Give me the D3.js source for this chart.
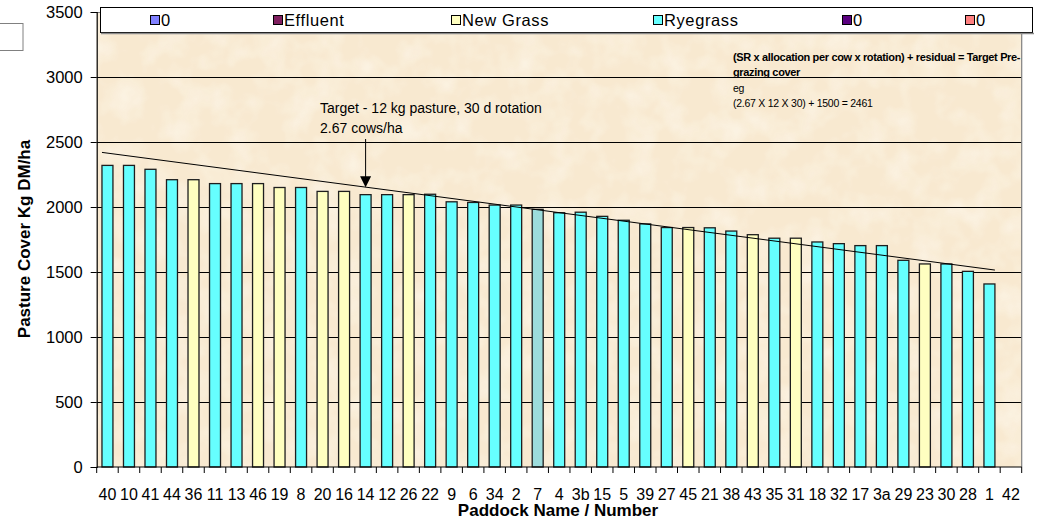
<!DOCTYPE html>
<html><head><meta charset="utf-8">
<script src="https://cdn.jsdelivr.net/npm/d3@7"></script>
<style>body{margin:0;background:#fff}svg{display:block}text{font-family:"Liberation Sans",Arial,sans-serif;fill:#000}</style>
</head><body>
<script>
// ---- data ----
const paddocks = ["40","10","41","44","36","11","13","46","19","8","20","16","14","12","26","22","9","6","34","2","7","4","3b","15","5","39","27","45","21","38","43","35","31","18","32","17","3a","29","23","30","28","1","42"];
const cover = [2320,2320,2290,2210,2210,2180,2180,2180,2150,2150,2120,2120,2095,2095,2095,2098,2040,2035,2015,2015,1982,1956,1960,1928,1898,1870,1842,1842,1840,1815,1787,1760,1760,1731,1718,1703,1703,1590,1562,1562,1505,1408,0];
const grassType = ["Ryegrass","Ryegrass","Ryegrass","Ryegrass","New Grass","Ryegrass","Ryegrass","New Grass","New Grass","Ryegrass","New Grass","New Grass","Ryegrass","Ryegrass","New Grass","Ryegrass","Ryegrass","Ryegrass","Ryegrass","Ryegrass","Selected","Ryegrass","Ryegrass","Ryegrass","Ryegrass","Ryegrass","Ryegrass","New Grass","Ryegrass","Ryegrass","New Grass","Ryegrass","New Grass","Ryegrass","Ryegrass","Ryegrass","Ryegrass","Ryegrass","New Grass","Ryegrass","Ryegrass","Ryegrass","Ryegrass"];
const legendNames = ["0","Effluent","New Grass","Ryegrass","0","0"];
const legendColors = ["#8080FF","#7F1F5F","#FFFFC0","#66FFFF","#5A0080","#FF8080"];
const typeColors = {"Ryegrass":"#66FFFF","New Grass":"#FFFFC0","Selected":"#9CDCDC"};
const yTicks = [0,500,1000,1500,2000,2500,3000,3500];
const targetLine = [{paddock:"40", value:2420},{paddock:"1", value:1515}];
const arrowPaddock = "14";
const targetText = ["Target - 12 kg pasture, 30 d rotation","2.67 cows/ha"];
const formulaBold = ["(SR x allocation per cow x rotation) + residual = Target Pre-","grazing cover"];
const formulaPlain = ["eg","(2.67 X 12 X 30) + 1500 = 2461"];
const yTitle = "Pasture Cover Kg DM/ha";
const xTitle = "Paddock Name / Number";

// ---- layout ----
const W = 1046, H = 522;
const L = 96.7, R = 1021.7, T = 12, B = 467;
const legendX = [150, 273, 451, 653, 842, 965];

const svg = d3.select("body").append("svg").attr("width", W).attr("height", H);
const defs = svg.append("defs");
const f = defs.append("filter").attr("id","paper").attr("x",0).attr("y",0).attr("width","100%").attr("height","100%");
f.append("feTurbulence").attr("type","fractalNoise").attr("baseFrequency","0.035").attr("numOctaves",3).attr("seed",4).attr("result","n");
f.append("feColorMatrix").attr("in","n").attr("type","matrix")
 .attr("values","0 0 0 0 1  0 0 0 0 0.98  0 0 0 0 0.93  1.1 0 0 0 -0.45");
f.append("feComposite").attr("in2","SourceGraphic").attr("operator","in");

const x = d3.scaleBand().domain(paddocks).range([L, R]).paddingInner(0.49).paddingOuter(0.245);
const y = d3.scaleLinear().domain([0, 3500]).range([B, T]);

// plot background
svg.append("rect").attr("x", L).attr("y", T).attr("width", R - L).attr("height", B - T).attr("fill", "#F8E9D0");
svg.append("rect").attr("x", L).attr("y", T).attr("width", R - L).attr("height", B - T).attr("fill", "#fff").attr("filter","url(#paper)").attr("opacity",0.9);

// gridlines
svg.append("g").selectAll("line").data(yTicks.filter(d => d > 0 && d < 3500)).join("line")
  .attr("x1", L).attr("x2", R).attr("y1", d => Math.round(y(d)) + 0.5).attr("y2", d => Math.round(y(d)) + 0.5)
  .attr("stroke", "#000").attr("stroke-width", 1);

// plot border (right/top gray)
svg.append("path").attr("d", `M${L},${T+0.5}H${R}V${B}`).attr("fill","none").attr("stroke","#808080").attr("stroke-width",1.2);

// bars
svg.append("g").selectAll("rect").data(paddocks.map((p, i) => ({p, v: cover[i], t: grassType[i]})).filter(d => d.v > 0)).join("rect")
  .attr("x", d => x(d.p)).attr("width", x.bandwidth())
  .attr("y", d => y(d.v)).attr("height", d => y(0) - y(d.v))
  .attr("fill", d => typeColors[d.t]).attr("stroke", "#1e1e1e").attr("stroke-width", 1.3);

// axes
const yAxis = svg.append("g").attr("transform", `translate(${L},0)`)
  .call(d3.axisLeft(y).tickValues(yTicks).tickSize(6).tickPadding(8).tickFormat(d3.format("d")));
yAxis.select(".domain").attr("stroke","#000").attr("stroke-width",1.2);
yAxis.selectAll("text").attr("font-size", 16.5).attr("font-family", '"Liberation Sans",Arial,sans-serif');

const step = x.step();
const bounds = d3.range(paddocks.length + 1).map(i => L + i * step);
svg.append("line").attr("x1", L).attr("x2", R).attr("y1", B).attr("y2", B).attr("stroke","#000").attr("stroke-width",1.2);
svg.append("g").selectAll("line").data(bounds).join("line")
  .attr("x1", d => d).attr("x2", d => d).attr("y1", B).attr("y2", B + 6).attr("stroke","#000");
svg.append("g").selectAll("text").data(paddocks).join("text")
  .attr("x", d => x(d) + x.bandwidth() / 2).attr("y", 500).attr("text-anchor","middle")
  .attr("font-size", 16).text(d => d);

// axis titles
svg.append("text").attr("transform", "translate(30,239) rotate(-90)").attr("text-anchor","middle")
  .attr("font-size", 17).attr("font-weight","bold").text(yTitle);
svg.append("text").attr("x", 558).attr("y", 516).attr("text-anchor","middle")
  .attr("font-size", 17).attr("font-weight","bold").text(xTitle);

// target trend line
const tx0 = x(targetLine[0].paddock), tx1 = x(targetLine[1].paddock) + x.bandwidth();
svg.append("line").attr("x1", tx0).attr("y1", y(targetLine[0].value)).attr("x2", tx1).attr("y2", y(targetLine[1].value))
  .attr("stroke","#000").attr("stroke-width",1);

// arrow
const ax = x(arrowPaddock) + x.bandwidth() / 2;
const tv = targetLine[0].value + (ax - tx0) / (tx1 - tx0) * (targetLine[1].value - targetLine[0].value);
const tipY = y(tv);
svg.append("line").attr("x1", ax).attr("x2", ax).attr("y1", 139).attr("y2", tipY - 8).attr("stroke","#000").attr("stroke-width",1);
svg.append("path").attr("d", `M${ax-5.5},${tipY-11}L${ax+5.5},${tipY-11}L${ax},${tipY}Z`).attr("fill","#000");

// annotation text
svg.append("g").selectAll("text").data(targetText).join("text")
  .attr("x", 320).attr("y", (d, i) => 113 + i * 19.5).attr("font-size", 14).text(d => d);
svg.append("g").selectAll("text").data(formulaBold).join("text")
  .attr("x", 733).attr("y", (d, i) => 61 + i * 14.5).attr("font-size", 11).attr("letter-spacing", -0.35)
  .attr("font-weight","bold").text(d => d);
svg.append("g").selectAll("text").data(formulaPlain).join("text")
  .attr("x", 733).attr("y", (d, i) => 92 + i * 15).attr("font-size", 10.5).attr("letter-spacing", -0.25).text(d => d);

// legend
svg.append("rect").attr("x", 100.5).attr("y", 7.5).attr("width", 932).attr("height", 25).attr("fill","#fff").attr("stroke","#000").attr("stroke-width",1);
svg.append("line").attr("x1", 101).attr("x2", 1034).attr("y1", 33.5).attr("y2", 33.5).attr("stroke","#8a8a8a").attr("stroke-width",1.5);
const lg = svg.append("g").selectAll("g").data(legendNames.map((n, i) => ({n, c: legendColors[i], x: legendX[i]}))).join("g");
lg.append("rect").attr("x", d => d.x + 0.5).attr("y", 15.5).attr("width", 9).attr("height", 9).attr("fill", d => d.c).attr("stroke","#000");
lg.append("text").attr("x", d => d.x + 11).attr("y", 26).attr("font-size", 16.5).attr("letter-spacing", 0.6).text(d => d.n);

// stray box at top left
svg.append("rect").attr("x", -1).attr("y", 23.5).attr("width", 24).attr("height", 27).attr("fill","#fff").attr("stroke","#808080");
</script>
</body></html>
